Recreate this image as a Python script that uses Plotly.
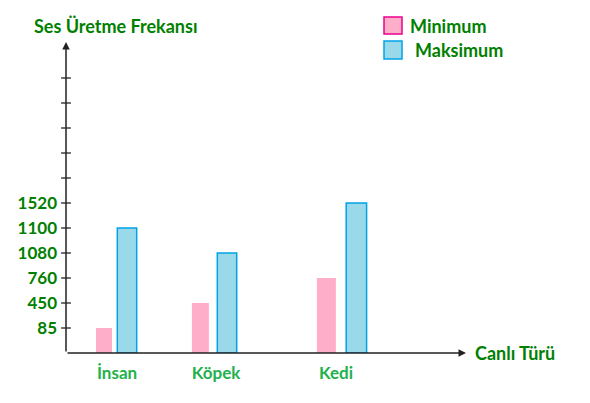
import plotly.graph_objects as go

# ---- data ----
categories = ["İnsan", "Köpek", "Kedi"]
min_values = [85, 450, 760]
max_values = [1100, 1080, 1520]
tick_labels = ["85", "450", "760", "1080", "1100", "1520"]
y_title = "Ses Üretme Frekansı"
x_title = "Canlı Türü"
series_names = ["Minimum", "Maksimum"]

# ---- layout constants (page pixels; the page body has an 8px margin) ----
OFF = 8
W, H = 590 - 2 * OFF, 403 - 2 * OFF
AX_X, BASE_Y, TOP_Y, RIGHT_X = 66, 353, 42, 466
ML = AX_X - OFF
MT = TOP_Y - OFF
MB = (H + OFF) - BASE_Y
MR = (W + OFF) - RIGHT_X
X_MAX = 10.0
Y_MAX = (BASE_Y - TOP_Y) / 25.0
EXTRA_TICKS = 5  # unlabeled ticks above the last label
group_pos = [1.275, 3.75, 6.75]
min_x = [0.95, 3.36, 6.51]
max_x = [1.525, 4.025, 7.26]
min_w = [0.40, 0.425, 0.475]
max_w = [0.485, 0.485, 0.51]

DARK_GREEN = "#008000"
LIGHT_GREEN = "#22b14c"
PINK = "#ffaec9"
PINK_EDGE = "#ec008c"
BLUE = "#99d9ea"
BLUE_EDGE = "#00a2e8"
AXIS = "#222222"
FONT = "Lato"

# value -> position on the ordinal scale
label_pos = {int(t): i + 1 for i, t in enumerate(tick_labels)}
min_y = [label_pos[v] for v in min_values]
max_y = [label_pos[v] for v in max_values]

pw = RIGHT_X - AX_X
ph = BASE_Y - TOP_Y


def px_x(p):
    return (p - AX_X) / pw


def px_y(p):
    return (BASE_Y - p) / ph


fig = go.Figure()
fig.add_trace(go.Bar(x=min_x, y=min_y, width=min_w, name=series_names[0],
                     marker=dict(color=PINK, line=dict(width=0)),
                     customdata=min_values, hovertemplate="%{customdata}",
                     showlegend=False))
fig.add_trace(go.Bar(x=max_x, y=max_y, width=max_w, name=series_names[1],
                     marker=dict(color=BLUE, line=dict(color=BLUE_EDGE, width=1.5)),
                     customdata=max_values, hovertemplate="%{customdata}",
                     showlegend=False))

# crossing tick marks on the y axis
n_ticks = len(tick_labels) + EXTRA_TICKS
fig.add_trace(go.Scatter(x=[0] * n_ticks, y=list(range(1, n_ticks + 1)),
                         mode="markers", hoverinfo="skip", showlegend=False,
                         cliponaxis=False,
                         marker=dict(symbol="line-ew", size=7,
                                     line=dict(width=1.3, color=AXIS))))

fig.update_layout(
    width=W, height=H,
    margin=dict(l=ML, r=MR, t=MT, b=MB, autoexpand=False),
    paper_bgcolor="white", plot_bgcolor="white",
    barmode="overlay",
    font=dict(family=FONT, size=17, color=DARK_GREEN, weight="bold"),
    xaxis=dict(range=[0, X_MAX], showgrid=False, zeroline=False, showline=False,
               tickmode="array", tickvals=group_pos, ticktext=categories,
               ticks="", ticklabelstandoff=8, automargin=False,
               tickfont=dict(family=FONT, size=17, color=LIGHT_GREEN, weight="bold")),
    yaxis=dict(range=[0, Y_MAX], showgrid=False, zeroline=False, showline=False,
               tickmode="array", tickvals=list(range(1, len(tick_labels) + 1)),
               ticktext=tick_labels, ticks="", ticklabelstandoff=8, automargin=False,
               tickfont=dict(family=FONT, size=17, color=DARK_GREEN, weight="bold")),
)

# axes with arrowheads
fig.add_annotation(x=X_MAX, y=0, ax=0, ay=0, xref="x", yref="y", axref="x", ayref="y",
                   showarrow=True, arrowhead=2, arrowsize=1, arrowwidth=1.5,
                   arrowcolor=AXIS, text="")
fig.add_annotation(x=0, y=Y_MAX, ax=0, ay=0, xref="x", yref="y", axref="x", ayref="y",
                   showarrow=True, arrowhead=2, arrowsize=1, arrowwidth=1.5,
                   arrowcolor=AXIS, text="")

# axis titles
fig.add_annotation(x=px_x(32), y=px_y(26), xref="paper", yref="paper",
                   xanchor="left", yanchor="middle", showarrow=False, text=y_title,
                   font=dict(family=FONT, size=18, color=DARK_GREEN, weight="bold"))
fig.add_annotation(x=px_x(473), y=px_y(353), xref="paper", yref="paper",
                   xanchor="left", yanchor="middle", showarrow=False, text=x_title,
                   font=dict(family=FONT, size=18, color=DARK_GREEN, weight="bold"))

# manual legend
legend_items = [
    (series_names[0], PINK, PINK_EDGE, 17, 34, 408, 26),
    (series_names[1], BLUE, BLUE_EDGE, 41, 59, 413, 50),
]
for name, fill, edge, top, bot, tx, ty in legend_items:
    fig.add_shape(type="rect", xref="paper", yref="paper",
                  x0=px_x(384), x1=px_x(402), y0=px_y(bot), y1=px_y(top),
                  fillcolor=fill, line=dict(color=edge, width=1.5))
    fig.add_annotation(x=px_x(tx), y=px_y(ty), xref="paper", yref="paper",
                       xanchor="left", yanchor="middle", showarrow=False, text=name,
                       font=dict(family=FONT, size=18, color=DARK_GREEN, weight="bold"))

fig.write_html("out.html")
